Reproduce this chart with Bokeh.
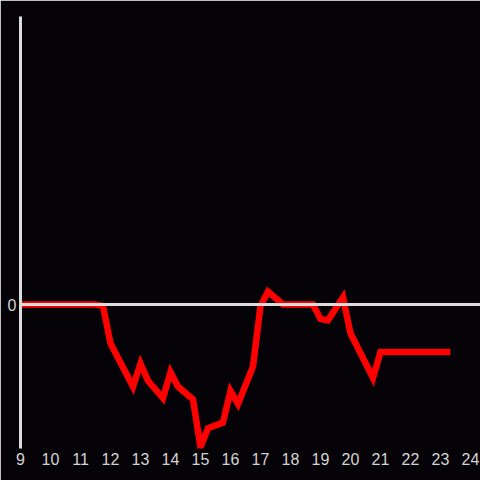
from bokeh.plotting import figure
from bokeh.models import Span, FixedTicker, Range1d
from bokeh.embed import file_html
from bokeh.resources import INLINE

hours = [9, 11.5, 11.75, 12.0, 12.75, 13.0, 13.25, 13.75, 14.0, 14.25, 14.75, 15.0,
         15.25, 15.75, 16.0, 16.25, 16.75, 17.0, 17.25, 17.75, 18.75, 19.0, 19.25,
         19.75, 20.0, 20.75, 21.0, 23.33]
values = [0, 0, -0.1, -2.7, -5.7, -4.1, -5.3, -6.5, -4.7, -5.7, -6.6, -9.9,
          -8.6, -8.2, -6.0, -6.9, -4.3, -0.1, 0.9, 0, 0, -1.0, -1.1,
          0.5, -2.0, -5.1, -3.3, -3.3]
x_ticks = list(range(9, 25))
y_ticks = [0]

BG = "#050307"
GRAY = "#dcdcdc"

p = figure(width=480, height=480, output_backend="svg", toolbar_location=None,
           x_range=Range1d(9, 9 + 460 / 30), y_range=Range1d(-10, 20),
           background_fill_color=BG, border_fill_color=BG,
           min_border_left=20, min_border_right=0, min_border_top=16, min_border_bottom=32)
p.outline_line_color = BG
p.outline_line_width = 2
p.grid.visible = False

p.add_layout(Span(location=0, dimension="width", line_color=GRAY, line_width=3))

p.line(hours, values, line_color="#ff0000", line_width=6.5, line_join="miter")

p.xaxis.ticker = FixedTicker(ticks=x_ticks)
p.yaxis.ticker = FixedTicker(ticks=y_ticks)
for ax in (p.xaxis, p.yaxis):
    ax.major_tick_line_color = None
    ax.minor_tick_line_color = None
    ax.major_tick_out = 0
    ax.major_tick_in = 0
    ax.major_label_standoff = 4
    ax.major_label_text_font = "Liberation Sans"
    ax.major_label_text_font_size = "16px"
    ax.major_label_text_color = "#d4d4d4"
p.xaxis.axis_line_color = None
p.yaxis.axis_line_color = GRAY
p.yaxis.axis_line_width = 3

open("out.html", "w").write(file_html(p, INLINE))
